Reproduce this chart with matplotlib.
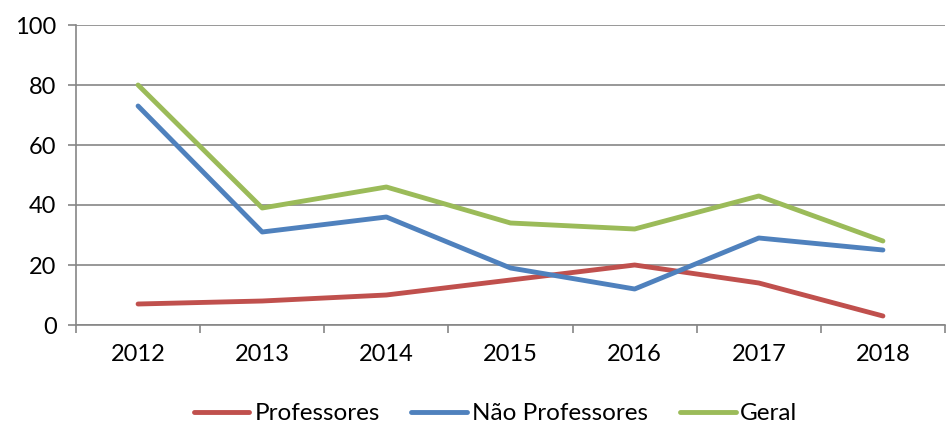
import matplotlib.pyplot as plt
from matplotlib.ticker import MultipleLocator, FixedLocator

# Dados
anos = ['2012', '2013', '2014', '2015', '2016', '2017', '2018']
professores = [7, 8, 10, 15, 20, 14, 3]
nao_professores = [73, 31, 36, 19, 12, 29, 25]
geral = [80, 39, 46, 34, 32, 43, 28]

plt.rcParams['font.family'] = ['Lato', 'DejaVu Sans']

fig = plt.figure(figsize=(9.53, 4.25), dpi=100)
ax = fig.add_axes([76/953, 1 - 325/425, (945 - 76)/953, 300/425])

x = range(len(anos))
estilo = dict(lw=3.5, solid_capstyle='round', solid_joinstyle='round')
ax.plot(x, professores, color='#C0504D', label='Professores', **estilo)
ax.plot(x, nao_professores, color='#4F81BD', label='Não Professores', **estilo)
ax.plot(x, geral, color='#9BBB59', label='Geral', **estilo)

ax.set_ylim(0, 100)
ax.set_xlim(-0.5, len(anos) - 0.5)
ax.yaxis.set_major_locator(MultipleLocator(20))
ax.set_xticks(list(x))
ax.set_xticklabels(anos)
ax.xaxis.set_minor_locator(FixedLocator([i - 0.5 for i in range(len(anos) + 1)]))

cinza = '#868686'
ax.grid(axis='y', color=cinza, lw=1.2)
ax.set_axisbelow(True)
for s in ['top', 'right']:
    ax.spines[s].set_visible(False)
for s in ['left', 'bottom']:
    ax.spines[s].set_color(cinza)
    ax.spines[s].set_linewidth(1.2)

ax.tick_params(axis='y', length=6, width=1.2, color=cinza, labelsize=17, pad=8)
ax.tick_params(axis='x', which='major', length=0, labelsize=17, pad=14)
ax.tick_params(axis='x', which='minor', length=6, width=1.2, color=cinza)

fig.legend(loc='lower center', bbox_to_anchor=(0.52, -0.05), ncol=3, frameon=False,
           fontsize=17.5, handlelength=2.3, columnspacing=1.3, handletextpad=0.2)

fig.savefig('out.png', dpi=100)
